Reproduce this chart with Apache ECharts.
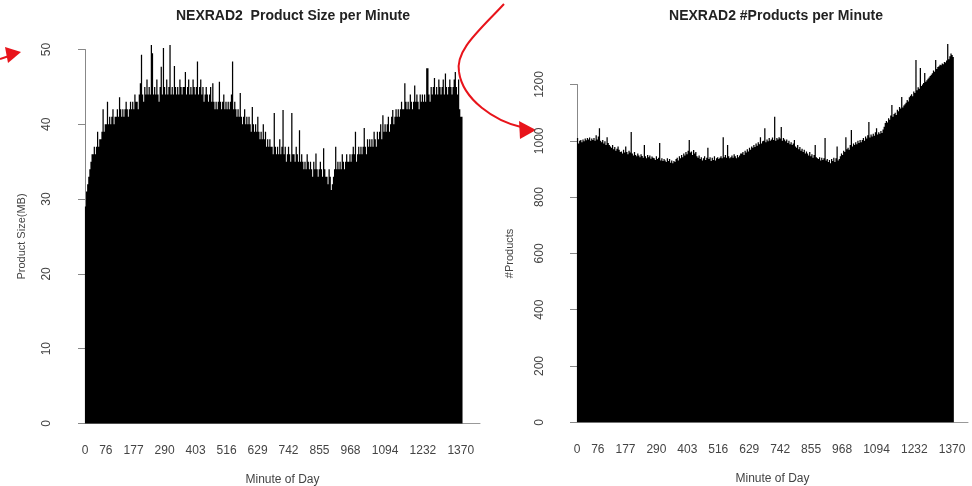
<!DOCTYPE html>
<html>
<head>
<meta charset="utf-8">
<script src="https://cdn.jsdelivr.net/npm/echarts@6/dist/echarts.min.js"></script>
<style>
html,body{margin:0;padding:0;background:#fff;}
#chart{width:972px;height:486px;}
</style>
</head>
<body>
<div id="chart"></div>
<script>
// Minutes per bar bin (each bar = 4 minutes of the day)
const BIN = 4;
// x-axis tick labels (minute of day)
const minuteLabels = [0, 76, 177, 290, 403, 516, 629, 742, 855, 968, 1094, 1232, 1370];
const sizeTicks = [0, 10, 20, 30, 40, 50];
const countTicks = [0, 200, 400, 600, 800, 1000, 1200];

// NEXRAD2 product size per minute (MB), 344 bins of 4 minutes
const sizeMB = [
 29,31,32,33,34,35,36,36,37,36,
 37,39,37,38,38,39,42,39,40,40,
 43,40,41,40,41,42,40,41,41,42,
 41,43.6,42,41,42,41,42,43,42,41,
 42,43,42,43,42,44,43,43,42,44,
 45.5,49.3,44,43,45,44,46,44,45,44,
 50.6,49.5,44,45,44,46,44,43,45,47.7,
 44,50.2,45,44,46,44,45,50.6,44,45,
 44,47.8,45,44,45,44,46,45,44,45,
 45,47,44,45,46,44,45,44,46,45,
 44,45,48.4,44,45,46,44,45,43,44,
 45,44,43,44,45,43,45.5,43,42,43,
 42,43,45.7,43,42,43,44,42,43,42,
 43,42,43,44,48.4,42,43,42,41,42,
 41,44.2,41,40,41,42,40,41,40,41,
 40,39,42.3,40,39,40,39,41,39,38,
 39,38,40,38,39,37,38,37,38,37,
 37,36,41.5,37,36,37,36,38,36,37,
 41.9,36,37,35,36,37,36,35,41.5,36,
 36,35,37,36,35,39.2,35,36,35,34,
 35,34,36,35,34,35,34,33,35,34,
 36.1,34,33,34,35,34,33,36.8,34,33,
 33,32,34,33,31.2,32,33,34,37,34,
 35,34,35,34,36,35,34,35,36,35,
 35,36,35,36,37,36,39,35,36,37,
 36,37,36,37,39.5,37,36,38,37,38,
 37,38,37,39,38,37,39,38,39,40,
 38,41.2,39,40,39,40,41,39,40,41,
 41.9,40,41,42,41,42,41,42,43,42,
 42,45.5,43,42,43,42,44,43,42,43,
 45.2,43,44,43,42,44,43,44,43,44,
 43,47.5,47.5,44,43,45,44,45,46.2,44,
 45,44,46,45,44,45,46,44,46.8,45,
 44,45,46,45,44,45,46,47,45,44,
 46,42,41,41
];

// NEXRAD2 number of products per minute, 344 bins of 4 minutes
const productCount = [
 1010,990,1000,1003,995,1005,998,1008,1002,1010,
 1005,1012,1000,1008,1003,1010,1000,1020,1005,1015,
 1045,1000,995,1003,990,998,985,1013,992,985,
 980,975,985,970,978,965,972,980,968,960,
 962,955,968,958,980,960,952,965,958,1031,
 955,948,960,950,945,955,948,942,952,946,
 940,985,945,938,950,942,948,936,944,940,
 938,932,945,935,940,992,930,938,928,935,
 930,925,938,928,935,922,930,920,928,925,
 935,940,930,945,938,950,942,955,948,960,
 952,965,1003,958,962,950,967,955,960,945,
 940,948,935,942,930,938,945,932,940,975,
 935,942,928,940,932,945,930,938,942,935,
 940,945,938,1013,942,950,940,985,945,938,
 942,948,940,952,945,938,950,942,948,955,
 955,960,950,965,958,970,962,975,968,980,
 975,985,978,990,982,995,988,1013,990,998,
 1000,1045,995,1005,998,1010,1000,1005,1012,1003,
 1085,1000,1010,1005,1013,1008,1049,1000,1010,1005,
 998,1005,992,1000,988,995,985,990,1003,980,
 975,985,970,978,965,972,960,968,955,962,
 955,948,960,945,952,940,950,985,942,938,
 935,942,930,940,932,938,1010,930,935,925,
 932,920,935,928,940,925,938,980,930,935,
 945,955,950,965,960,1013,970,975,968,985,
 1038,980,990,985,995,988,1000,992,1003,995,
 1003,1010,1000,1015,1008,1020,1067,1012,1022,1015,
 1025,1018,1030,1045,1022,1030,1025,1035,1028,1040,
 1050,1063,1070,1065,1080,1075,1090,1127,1085,1095,
 1100,1092,1110,1105,1120,1115,1156,1118,1125,1130,
 1135,1145,1140,1155,1160,1165,1158,1175,1170,1287,
 1180,1190,1185,1259,1195,1200,1205,1241,1210,1215,
 1220,1225,1230,1235,1240,1250,1245,1287,1255,1262,
 1265,1270,1268,1275,1272,1280,1278,1285,1344,1290,
 1300,1310,1305,1298
];

const FONT = "'Liberation Sans', Arial, Helvetica, sans-serif";
const toPairs = arr => arr.map((v, i) => [i * BIN + BIN / 2, v]);

function xAxisCfg(gridIndex, max) {
  return {
    type: 'value', gridIndex: gridIndex, min: 0, max: max,
    name: 'Minute of Day', nameLocation: 'middle', nameGap: 50,
    nameTextStyle: {fontFamily: FONT, fontSize: 12, color: '#444'},
    axisLine: {show: true, lineStyle: {color: '#999', width: 1}},
    axisTick: {show: false},
    splitLine: {show: false},
    axisLabel: {
      customValues: minuteLabels, hideOverlap: false, margin: 21,
      fontFamily: FONT, fontSize: 12, color: '#444',
      formatter: v => String(v)
    }
  };
}
function yAxisCfg(gridIndex, max, interval, name, nameGap, offset) {
  return {
    type: 'value', gridIndex: gridIndex, min: 0, max: max, interval: interval,
    offset: offset,
    name: name, nameLocation: 'middle', nameGap: nameGap, nameRotate: 90,
    nameTextStyle: {fontFamily: FONT, fontSize: 11, color: '#444'},
    axisLine: {show: true, lineStyle: {color: '#888', width: 1}},
    axisTick: {show: true, length: 7, inside: false, lineStyle: {color: '#888'}},
    splitLine: {show: false},
    axisLabel: {rotate: 90, margin: 16, fontFamily: FONT, fontSize: 12, color: '#444',
      formatter: v => String(v)}
  };
}

const RED = '#e8141b';
function barSeries(idx, values) {
  return {
    type: 'bar', xAxisIndex: idx, yAxisIndex: idx, data: toPairs(values),
    barWidth: 1.25, clip: false, silent: true,
    large: true, largeThreshold: 50,
    itemStyle: {color: '#000', borderWidth: 0}
  };
}
const chart = echarts.init(document.getElementById('chart'), null, {renderer: 'canvas'});
chart.setOption({
  animation: false,
  backgroundColor: '#fff',
  title: [
    {text: 'NEXRAD2  Product Size per Minute', left: 288, top: 4, textAlign: 'center',
     textStyle: {fontFamily: FONT, fontSize: 14, fontWeight: 'bold', color: '#222'}},
    {text: 'NEXRAD2 #Products per Minute', left: 771, top: 4, textAlign: 'center',
     textStyle: {fontFamily: FONT, fontSize: 14, fontWeight: 'bold', color: '#222'}}
  ],
  grid: [
    {left: 85, top: 49.5, width: 395, height: 374, containLabel: false, outerBoundsMode: 'none'},
    {left: 577, top: 84.5, width: 391, height: 337.8, containLabel: false, outerBoundsMode: 'none'}
  ],
  xAxis: [xAxisCfg(0, 1440), xAxisCfg(1, 1428)],
  yAxis: [
    yAxisCfg(0, 50, 10, 'Product Size(MB)', 42, 16),
    yAxisCfg(1, 1200, 200, '#Products', 47, 15)
  ],
  series: [barSeries(0, sizeMB), barSeries(1, productCount)],
  graphic: [
    {type: 'line', shape: {x1: 0, y1: 59, x2: 9, y2: 56}, style: {stroke: RED, lineWidth: 2}},
    {type: 'polygon', shape: {points: [[21, 52], [5, 47], [8, 63]]}, style: {fill: RED}},
    {type: 'bezierCurve', shape: {x1: 504, y1: 4, cpx1: 480, cpy1: 30, cpx2: 455, cpy2: 50, x2: 459, y2: 72},
     style: {stroke: RED, lineWidth: 2, fill: null}},
    {type: 'bezierCurve', shape: {x1: 459, y1: 72, cpx1: 463, cpy1: 100, cpx2: 495, cpy2: 121, x2: 521, y2: 127},
     style: {stroke: RED, lineWidth: 2, fill: null}},
    {type: 'polygon', shape: {points: [[536, 130], [519, 121], [520, 139]]}, style: {fill: RED}}
  ]
});
</script>
</body>
</html>
